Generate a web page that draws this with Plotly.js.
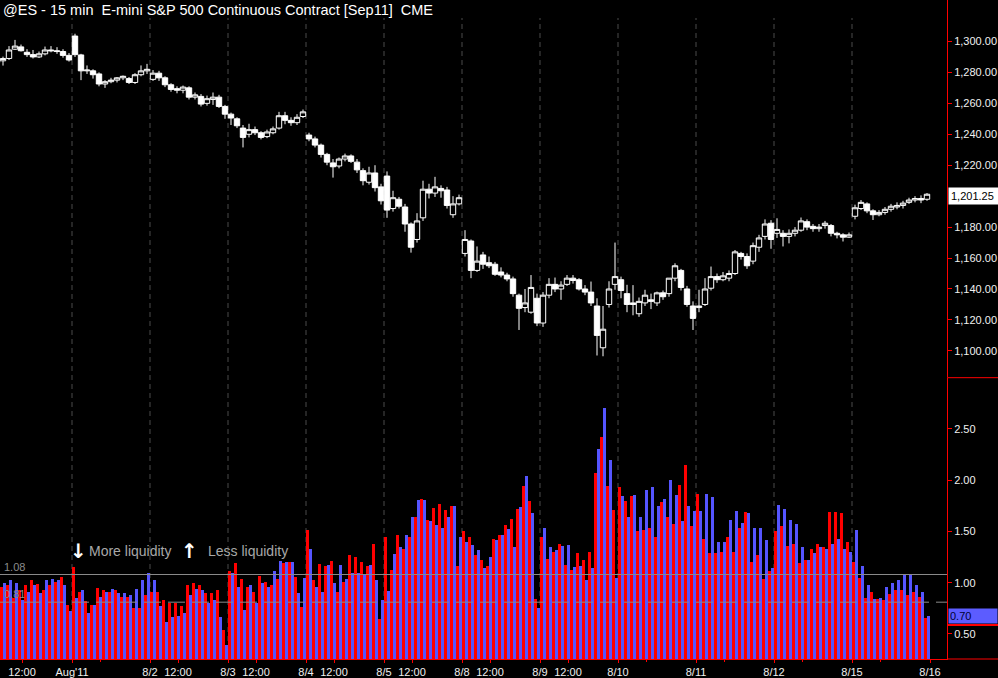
<!DOCTYPE html>
<html>
<head>
<meta charset="utf-8">
<script src="https://cdn.plot.ly/plotly-3.0.1.min.js"></script>
<style>
html,body{margin:0;padding:0;background:#000;}
#chart{width:998px;height:678px;}
</style>
</head>
<body>
<div id="chart"></div>
<script>
// ---- data (each slot = 30 min, 13 slots per session day) ----
const dayLabels = ["Aug'11","8/2","8/3","8/4","8/5","8/8","8/9","8/10","8/11","8/12","8/15","8/16"];
const noonLabelDays = [0,2,3,4,5,6,7];
const noonLabel = "12:00";
const slotsPerDay = 13;
const priceTicks = [1100,1120,1140,1160,1180,1220,1240,1260,1280,1300];
const indicatorTicks = [0.5, 1, 1.5, 2, 2.5];

const priceOpen = [1286.5,1287.5,1289,1295,1296.5,1293,1291.5,1290,1292,1294.5,1294,1293.5,1291,
1303.5,1291.3,1281,1281,1279,1272.5,1274,1275,1276.5,1276,1273.5,1278.5,1281,
1275.5,1279.5,1276.5,1272,1269.5,1268.5,1270,1264,1264.5,1260,1262.5,1264,1258,
1253,1250,1244,1240,1243,1241,1238.5,1241,1244,1252,1249,1247.5,1251.5,
1239.5,1237,1233,1227,1221.5,1219.5,1224,1226,1222,1216.5,1209,1215,1206,
1213,1192,1198,1193,1182,1172,1186,1204.5,1202,1205,1204,1188,1195,
1163,1171,1152,1162,1157,1156,1151,1149,1146.5,1136,1128,1125,1134,
1118,1136,1143,1140,1143,1147,1146,1140,1138,1129,1102,1130,1143,
1146,1137,1131,1124,1131,1133,1131,1137.5,1137,1147,1152,1140,1129,
1128,1130,1140.5,1148,1146,1147,1150,1163,1161,1158,1167,1174,1182.5,
1176,1176,1174,1176,1178,1183.5,1180.5,1179,1181,1181,1176,1175,1173.5,
1187,1192,1195,1190.5,1188,1189.5,1191.5,1193,1194,1196,1197.5,1198.5,1198];
const priceHigh = [1289.5,1290.2,1297,1301,1298,1295,1294.5,1293.5,1296.7,1297,1296.3,1295,1292.5,
1305,1292,1284.5,1282,1280,1275,1276.5,1277,1278,1277,1279.5,1284.5,1285.5,
1281.5,1281,1277.5,1273,1271,1271.5,1271,1267,1266,1265,1267,1265.5,1259,
1254,1251,1246,1246.8,1245,1242,1243,1245,1254.5,1254.5,1251,1253,1256,
1241,1238.5,1234,1228,1224,1225,1227.5,1227,1224,1218,1219,1220,1208,
1216,1203.5,1199.5,1195,1183,1189,1210,1208,1212.5,1207,1206,1200,1201,
1178,1172,1167.5,1164,1161,1157.5,1154,1150.5,1148,1137,1140,1149,1137,
1138,1147,1147.4,1145,1149,1149,1147,1142.5,1144.8,1134,1129,1145,1170,
1148,1142.7,1142.5,1134.5,1139.5,1137,1138.3,1139,1147,1156.6,1153,1142,1132,
1139.5,1147,1154.5,1150,1151,1152,1165.2,1164,1163,1170,1175,1185,1184.5,
1185.7,1178,1178.5,1180,1186.2,1185,1182,1182,1184,1182,1177,1176,1176.5,
1194.5,1197.5,1196,1191.5,1191,1193,1195,1196,1197,1199,1200,1200.5,1202];
const priceLow = [1284,1284.4,1288,1294.5,1293.5,1290,1289,1289.3,1291,1293,1292,1289.5,1287,
1290,1275,1279,1276,1271,1270,1273,1273.5,1275,1272.5,1272.5,1277.5,1279,
1274.5,1274.5,1270.5,1267.5,1266.5,1266.5,1262.5,1262.5,1258,1258.5,1259,1257,1250,
1246,1244,1231.5,1238,1239.5,1236.7,1237.5,1240,1243,1246.5,1245.5,1246,1250.5,
1235.5,1231.5,1225,1220,1212,1218,1222.5,1221.5,1215,1207,1207.5,1203,1194.6,
1186,1190,1192,1177,1163.5,1170,1184,1198.5,1199.5,1199,1192,1186,1194,
1161,1147,1151,1153,1153.5,1148.5,1147.5,1145,1135,1113.5,1125,1124,1116,
1115.5,1134,1138,1133,1142,1143.5,1139,1136,1129,1097,1096.5,1128,1139.5,
1134,1125,1123,1122,1129,1127,1129,1133,1135,1145,1139,1128.5,1113.5,
1125,1129,1139,1144,1145,1145,1149,1159,1153,1156,1164,1172,1166,
1173,1167.5,1169.5,1174,1177,1178,1177,1177,1179,1174,1172.7,1170.7,1173,
1185,1191,1189,1184.6,1187,1188,1190,1191.5,1192,1195,1196,1195.5,1197];
const priceClose = [1287.5,1289,1294.5,1297,1294,1291.5,1290,1292,1294.5,1294,1293.5,1291,1288,
1291.5,1281,1281.5,1278.5,1272.5,1274,1275,1276.5,1277.5,1273.5,1278.5,1281,1282,
1279.5,1276.5,1272,1269,1268.5,1270.5,1264,1265.5,1259.5,1263,1264,1258,1253,
1250.5,1245.5,1238,1243,1241,1238,1241.5,1243.5,1252,1249,1247.5,1251,1254.5,
1237,1233,1227,1222,1219,1224,1226,1222.5,1217,1210,1215,1205.5,1197,
1191,1199,1193.5,1182,1167,1184,1204.5,1202,1206,1203.5,1194,1195,1199,
1172,1152,1158,1156,1155,1149.5,1149,1146.5,1137,1127.5,1131,1141,1118,
1136,1143,1140,1142.5,1147,1145.5,1140,1138,1131,1110,1114,1140,1148,
1139,1130,1130,1132,1136,1132,1137.5,1135,1147,1155,1141,1130,1121,
1129,1140,1148,1146,1148.5,1150,1164,1161,1155,1168,1173,1182,1172,
1178.5,1174,1176,1178,1184,1180,1179,1180,1182.5,1176,1175,1173.5,1175,
1192.5,1196,1190.5,1188,1189.5,1191.5,1193.5,1194,1195.5,1197.5,1198.5,1197.5,1201.25];

const redBars = [0.95,0.96,0.98,0.85,0.93,0.98,1.03,0.99,0.93,0.98,1.01,1.06,0.78,
1.15,0.91,0.82,0.78,0.95,0.93,0.91,0.93,0.86,0.86,0.75,0.75,0.88,
0.91,0.91,0.83,0.80,0.80,0.77,0.98,1.00,0.98,0.90,0.90,0.93,0.54,
1.11,1.19,1.04,0.96,0.91,1.07,1.01,0.98,1.04,1.19,1.20,1.06,0.76,
1.51,1.03,1.18,1.16,1.21,0.91,1.01,1.27,1.25,1.20,1.16,1.38,0.65,
1.45,1.12,1.47,1.33,1.45,1.64,1.82,1.61,1.73,1.77,1.71,1.75,1.16,
1.50,1.45,1.27,1.22,1.16,1.43,1.47,1.56,1.62,1.72,1.94,1.80,0.84,
1.45,1.23,1.30,1.38,1.17,1.12,1.29,1.22,1.30,2.07,2.42,1.94,1.71,
1.93,1.80,1.85,1.50,1.51,1.53,1.45,1.79,1.64,1.57,1.95,2.15,1.55,
1.87,1.43,1.29,1.29,1.30,1.45,1.30,1.53,1.69,1.20,1.27,1.04,1.11,
1.50,1.55,1.36,1.38,1.19,1.22,1.33,1.38,1.35,1.69,1.69,1.68,1.40,
1.20,1.05,0.85,0.91,0.84,0.83,0.89,0.93,0.93,0.88,0.91,0.86,0.66];
const blueBars = [1.00,1.00,1.03,1.00,0.83,0.91,0.98,0.90,1.03,1.04,1.03,0.98,0.72,
0.85,0.93,0.70,0.78,0.86,0.91,0.94,0.90,0.90,0.88,0.94,1.03,1.09,
1.03,0.77,0.62,0.67,0.68,0.70,0.88,0.94,0.93,0.80,0.83,0.67,0.39,
1.09,0.96,0.73,0.98,0.80,1.00,0.96,1.11,1.21,1.20,1.20,0.90,1.05,
1.33,0.96,0.91,1.17,1.00,1.17,1.04,1.09,1.09,1.08,1.17,1.03,0.83,
0.92,1.28,1.35,1.47,1.64,1.81,1.81,1.60,1.56,1.53,1.64,1.75,1.45,
1.40,1.37,1.32,1.14,1.25,1.42,1.47,1.52,1.35,1.74,2.04,1.68,0.75,
1.53,1.35,1.32,1.36,1.37,1.15,1.16,1.03,1.14,2.30,2.70,2.20,1.05,
1.85,1.64,1.86,1.64,1.90,1.93,1.75,1.82,2.00,1.86,1.60,1.75,1.70,
1.70,1.87,1.84,1.40,1.40,1.61,1.70,1.58,1.68,1.53,1.53,1.42,1.14,
1.76,1.72,1.61,1.57,1.35,1.22,1.29,1.35,1.33,1.38,1.43,1.33,1.30,
1.51,1.16,0.98,0.84,0.85,0.96,1.00,1.03,1.08,1.08,0.98,0.91,0.68];

const levelHigh = 1.08;
const levelLow = 0.81;
const lastPriceLabel = "1,201.25";
const lastIndicatorLabel = "0.70";
const titleText = "@ES - 15 min\u00a0\u00a0E-mini S&amp;P 500 Continuous Contract [Sep11]\u00a0\u00a0CME";

// ---- derived positions ----
const xs = priceClose.map((_, s) => (s + 0.5) / slotsPerDay);
const slotW = 1 / slotsPerDay;
const noonOffset = 0.359;

const majorVals = [], majorText = [];
dayLabels.forEach((d, i) => { majorVals.push(i + 1); majorText.push(d); });
noonLabelDays.forEach(k => { majorVals.push(k + noonOffset); majorText.push(noonLabel); });
const minorVals = [];
for (let k = 0; k < 12; k++) if (noonLabelDays.indexOf(k) < 0) minorVals.push(k + noonOffset);

const FONT = "Liberation Sans, Arial, sans-serif";
const RED = "#ff0000";

const traces = [
  {
    type: "candlestick", x: xs, open: priceOpen, high: priceHigh, low: priceLow, close: priceClose,
    xaxis: "x", yaxis: "y", whiskerwidth: 0, hoverinfo: "skip",
    increasing: {line: {color: "#ffffff", width: 1}, fillcolor: "#000000"},
    decreasing: {line: {color: "#ffffff", width: 1}, fillcolor: "#ffffff"},
    showlegend: false
  },
  {
    type: "bar", x: xs, y: redBars, xaxis: "x", yaxis: "y2",
    width: 0.5 * slotW, offset: -0.5 * slotW,
    marker: {color: RED, line: {width: 0}}, hoverinfo: "skip", showlegend: false
  },
  {
    type: "bar", x: xs, y: blueBars, xaxis: "x", yaxis: "y2",
    width: 0.5 * slotW, offset: 0,
    marker: {color: "#5555ff", line: {width: 0}}, hoverinfo: "skip", showlegend: false
  }
];

const shapes = [];
for (let k = 1; k <= 11; k++) {
  shapes.push({type: "line", xref: "x", yref: "paper", x0: k, x1: k, y0: 0, y1: 0.9727,
    line: {color: "#4a4a4a", width: 1, dash: "5px,4px"}, layer: "below"});
}
shapes.push({type: "line", xref: "paper", yref: "y2", x0: 0, x1: 1, y0: levelHigh, y1: levelHigh,
  line: {color: "#8a8a8a", width: 1}});
shapes.push({type: "line", xref: "paper", yref: "y2", x0: 0, x1: 1, y0: levelLow, y1: levelLow,
  line: {color: "#8a8a8a", width: 1, dash: "17px,7px"}});
shapes.push({type: "line", xref: "paper", yref: "paper", x0: 1, x1: 1.06, y0: 0.4269, y1: 0.4269,
  line: {color: RED, width: 1}});
shapes.push({type: "line", xref: "paper", yref: "paper", x0: 1, x1: 1.06, y0: 0, y1: 0,
  line: {color: RED, width: 1}});
shapes.push({type: "line", xref: "paper", yref: "y2", x0: 1, x1: 1.06, y0: 0.587, y1: 0.587,
  line: {color: RED, width: 2}});

const annotations = [
  {xref: "paper", yref: "y2", x: 0.002, y: levelHigh, xanchor: "left", yanchor: "bottom",
   text: levelHigh.toFixed(2), showarrow: false, font: {family: FONT, size: 11, color: "#8c8c8c"}},
  {xref: "paper", yref: "y2", x: 0.002, y: levelLow, xanchor: "left", yanchor: "bottom",
   text: levelLow.toFixed(2), showarrow: false, font: {family: FONT, size: 11, color: "#8c8c8c"}},
  {xref: "paper", yref: "paper", x: 0.0834, y: 0.1639, xanchor: "center", yanchor: "middle",
   text: "\u2193", showarrow: false, font: {family: "DejaVu Sans", size: 20, weight: "bold", color: "#ffffff"}},
  {xref: "paper", yref: "paper", x: 0.0919, y: 0.1639, xanchor: "left", yanchor: "middle",
   text: "More liquidity", showarrow: false, font: {family: FONT, size: 14, color: "#a8a8a8"}},
  {xref: "paper", yref: "paper", x: 0.2006, y: 0.1639, xanchor: "center", yanchor: "middle",
   text: "\u2191", showarrow: false, font: {family: "DejaVu Sans", size: 20, weight: "bold", color: "#ffffff"}},
  {xref: "paper", yref: "paper", x: 0.2175, y: 0.1639, xanchor: "left", yanchor: "middle",
   text: "Less liquidity", showarrow: false, font: {family: FONT, size: 14, color: "#a8a8a8"}},
  {xref: "paper", yref: "y", x: 1, y: priceClose[priceClose.length - 1], xanchor: "left", yanchor: "middle",
   xshift: 1, yshift: -2, text: lastPriceLabel, showarrow: false, bgcolor: "#ffffff", width: 46, align: "left",
   borderpad: 2, font: {family: FONT, size: 11, color: "#000000"}},
  {xref: "paper", yref: "y2", x: 1, y: blueBars[blueBars.length - 1], xanchor: "left", yanchor: "middle",
   xshift: 1, text: lastIndicatorLabel, showarrow: false, bgcolor: "#5c5cff", width: 46, align: "left",
   borderpad: 1, font: {family: FONT, size: 11, color: "#000033"}}
];

const layout = {
  width: 998, height: 678,
  margin: {l: 0, r: 51, t: 0, b: 19, pad: 0},
  paper_bgcolor: "#000000", plot_bgcolor: "#000000",
  showlegend: false, bargap: 0, boxgap: 0.1, boxgroupgap: 0,
  title: {text: titleText, x: 0.003, xref: "container", xanchor: "left",
          y: 0.985, yref: "container", yanchor: "middle",
          font: {family: FONT, size: 14.5, color: "#ffffff"}},
  xaxis: {
    type: "linear", range: [0.0769, 12.218], domain: [0, 1], anchor: "y2",
    showgrid: false, zeroline: false, showline: true, linecolor: RED, linewidth: 1,
    ticks: "outside", ticklen: 3, tickcolor: RED, tickwidth: 1,
    tickmode: "array", tickvals: majorVals, ticktext: majorText,
    tickfont: {family: FONT, size: 11, color: "#f0f0f0"},
    minor: {tickmode: "array", tickvals: minorVals, ticks: "outside", ticklen: 2, tickcolor: RED, showgrid: false},
    rangeslider: {visible: false}, fixedrange: true
  },
  yaxis: {
    domain: [0.4279, 1], range: [1083.1, 1326.8], side: "right", anchor: "x",
    showgrid: false, zeroline: false, showline: true, linecolor: RED, linewidth: 1,
    ticks: "outside", ticklen: 4, tickcolor: RED,
    tickmode: "array", tickvals: priceTicks,
    tickformat: ",.2f", tickfont: {family: FONT, size: 11, color: "#f0f0f0"}, fixedrange: true
  },
  yaxis2: {
    domain: [0, 0.4264], range: [0.2556, 2.997], side: "right", anchor: "x",
    showgrid: false, zeroline: false, showline: true, linecolor: RED, linewidth: 1,
    ticks: "outside", ticklen: 4, tickcolor: RED,
    tickmode: "array", tickvals: indicatorTicks,
    tickformat: ".2f", tickfont: {family: FONT, size: 11, color: "#f0f0f0"}, fixedrange: true
  },
  shapes: shapes,
  annotations: annotations
};

Plotly.newPlot("chart", traces, layout, {displayModeBar: false, staticPlot: true});
</script>
</body>
</html>
